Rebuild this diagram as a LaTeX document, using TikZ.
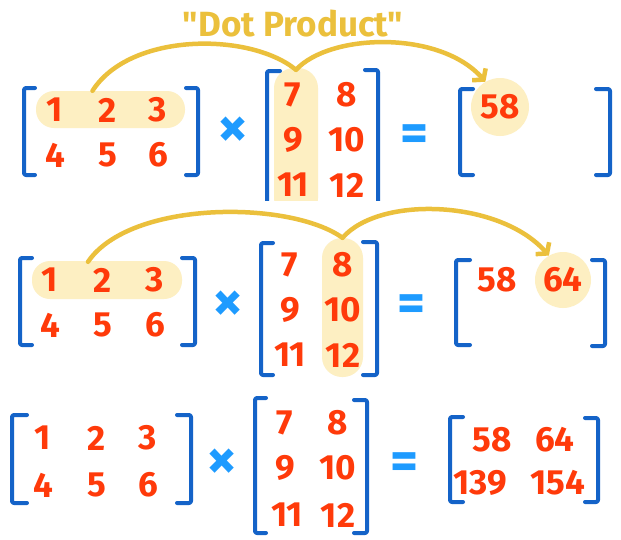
\documentclass[tikz,border=0pt]{standalone}
\usepackage{fontspec}
\setmainfont{Fira Sans}
\newfontfamily\titlefont{Fira Sans}[Ligatures=TeXOff]
\usetikzlibrary{arrows.meta,calc}
\definecolor{numred}{HTML}{FF3A0A}
\definecolor{brblue}{HTML}{1463C8}
\definecolor{opblue}{HTML}{1E9BFF}
\definecolor{gold}{HTML}{EBC03C}
\definecolor{hl}{HTML}{FDEFC2}
\tikzset{
 num/.style={text=numred, font=\bfseries\fontsize{35}{38}\selectfont, inner sep=0pt},
 op/.style={text=opblue, font=\bfseries\fontsize{60}{64}\selectfont, inner sep=0pt},
 eqop/.style={text=opblue, font=\bfseries\fontsize{54}{58}\selectfont, inner sep=0pt},
 br/.style={draw=brblue, line width=4, rounded corners=2, line cap=round, line join=round},
 arcline/.style={draw=gold, line width=4.5, line cap=round},
 pill/.style={fill=hl, rounded corners=18, inner sep=0pt},
 hlcircle/.style={circle, fill=hl, inner sep=0pt, minimum size=58},
 titletext/.style={text=gold, font=\titlefont\bfseries\fontsize{35}{38}\selectfont},
 tip/.style={-{Straight Barb[length=7pt,width=18pt]}}
}
% left bracket: x, top, bottom, serif length
\newcommand\LBr[4]{\draw[br] (#1+#4,#2) -- (#1,#2) -- (#1,#3) -- (#1+#4,#3);}
\newcommand\RBr[4]{\draw[br] (#1-#4,#2) -- (#1,#2) -- (#1,#3) -- (#1-#4,#3);}
\begin{document}
\begin{tikzpicture}[x=1pt,y=-1pt]
\useasboundingbox (0,0) rectangle (621,539);
\fill[white] (0,0) rectangle (621,539);

% ===== Title =====
\node[titletext] (title) at (293,24) {"Dot Product"};

% ===== Row 1 =====
\node[pill, minimum width=149, minimum height=37] (pA1) at (110.5,109.5) {};
\begin{scope}
 \clip (240,0) rectangle (400,200);
 \node[pill, rounded corners=20, minimum width=44, minimum height=150] (pB1) at (296,143) {};
 \draw[br] (280,71) -- (267,71) -- (267,204);
 \draw[br] (365,70) -- (378,70) -- (378,204);
\end{scope}
\node[hlcircle] (r1) at (500,107) {};
\LBr{24}{88}{175}{11}
\RBr{198}{88}{175}{12}
\node[num] (a11) at (55,110) {1};
\node[num] (a12) at (108,110) {2};
\node[num] (a13) at (158,110) {3};
\node[num] (a21) at (55,155) {4};
\node[num] (a22) at (108,155) {5};
\node[num] (a23) at (158,155) {6};
\node[op] (x1) at (233,132) {×};
\node[num] (b11) at (293,95) {7};
\node[num] (b12) at (347,95) {8};
\node[num] (b21) at (293,140) {9};
\node[num] (b22) at (347,140) {10};
\node[num] (b31) at (293,185) {11};
\node[num] (b32) at (347,185) {12};
\node[eqop] (e1) at (415,138) {=};
\LBr{460}{89}{175}{13}
\RBr{610}{89}{175}{14}
\node[num] (c11) at (500,107) {58};
\draw[arcline] ($(pA1.north)+(-18,0)$) .. controls (130,32) and (250,32) .. ($(pB1.north)+(0,2)$);
\draw[arcline, tip] ($(pB1.north)+(0,2)$) .. controls (330,33) and (440,30) .. (r1.120);

% ===== Row 2 =====
\node[pill, minimum width=150, minimum height=38] (pA2) at (107,280) {};
\node[pill, rounded corners=20, minimum width=41, minimum height=139] (pB2) at (342.5,307.5) {};
\node[hlcircle, minimum size=56] (r2) at (563,280) {};
\LBr{20}{258}{345}{12}
\RBr{195}{258}{345}{13}
\node[num] (a11b) at (50,280) {1};
\node[num] (a12b) at (103,280) {2};
\node[num] (a13b) at (155,280) {3};
\node[num] (a21b) at (50,325) {4};
\node[num] (a22b) at (103,325) {5};
\node[num] (a23b) at (155,325) {6};
\node[op] (x2) at (228,306) {×};
\LBr{261}{243}{375}{12}
\RBr{377}{242}{375}{14}
\node[num] (b11b) at (290,265) {7};
\node[num] (b12b) at (343,265) {8};
\node[num] (b21b) at (290,310) {9};
\node[num] (b22b) at (343,310) {10};
\node[num] (b31b) at (290,355) {11};
\node[num] (b32b) at (343,355) {12};
\node[eqop] (e2) at (412,308) {=};
\LBr{456}{260}{345}{14}
\RBr{605}{260}{346}{13}
\node[num] (c11b) at (497,280) {58};
\node[num] (c12b) at (563,280) {64};
\draw[arcline] ($(pA2.north)+(-19,1)$) .. controls (130,200) and (290,200) .. (pB2.north);
\draw[arcline, tip] (pB2.north) .. controls (380,195) and (500,200) .. (r2.120);

% ===== Row 3 =====
\LBr{12}{415}{503}{15}
\RBr{191}{415}{503}{14}
\node[num] (a11c) at (43,438) {1};
\node[num] (a12c) at (97,438) {2};
\node[num] (a13c) at (148,438) {3};
\node[num] (a21c) at (43,485) {4};
\node[num] (a22c) at (97,485) {5};
\node[num] (a23c) at (148,485) {6};
\node[op] (x3) at (222,464) {×};
\LBr{255}{398}{533}{11}
\RBr{367}{400}{533}{13}
\node[num] (b11c) at (285,423) {7};
\node[num] (b12c) at (338,423) {8};
\node[num] (b21c) at (285,468) {9};
\node[num] (b22c) at (338,468) {10};
\node[num] (b31c) at (287,515) {11};
\node[num] (b32c) at (338,515) {12};
\node[eqop] (e3) at (405,466) {=};
\LBr{450}{417}{502}{13}
\RBr{598}{418}{502}{13}
\node[num] (c11c) at (492,440) {58};
\node[num] (c12c) at (555,440) {64};
\node[num] (c21c) at (480,483) {139};
\node[num] (c22c) at (558,483) {154};
\end{tikzpicture}
\end{document}
